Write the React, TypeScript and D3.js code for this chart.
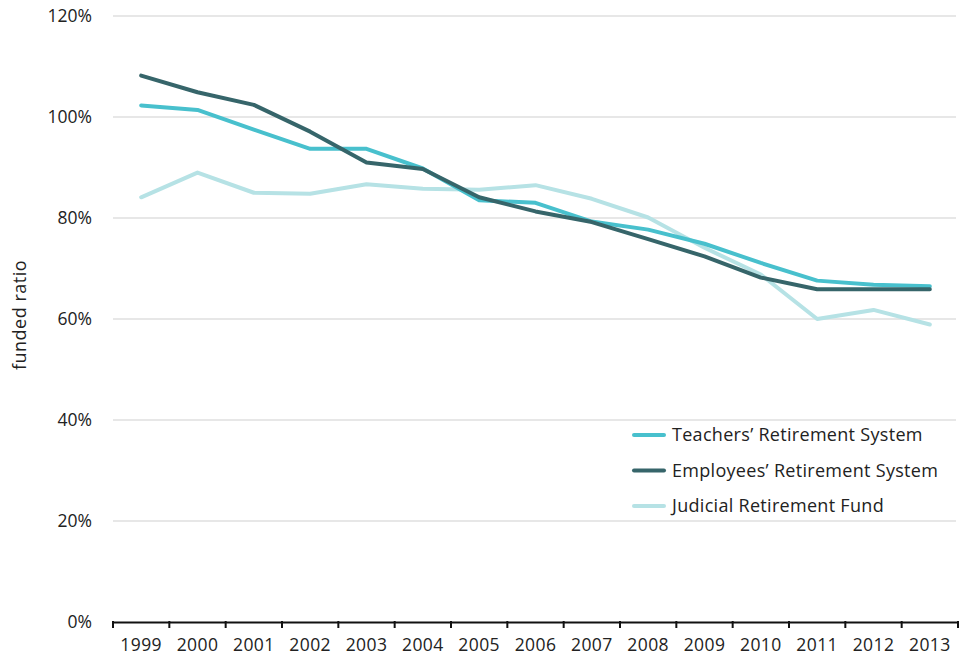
import React, { useEffect, useRef } from 'react';
import * as d3 from 'd3';

const years = ['1999', '2000', '2001', '2002', '2003', '2004', '2005', '2006', '2007', '2008', '2009', '2010', '2011', '2012', '2013'];
const teachers = [102.3, 101.4, 97.5, 93.7, 93.7, 89.8, 83.5, 83.0, 79.3, 77.7, 74.9, 71.1, 67.6, 66.8, 66.5];
const employees = [108.2, 104.9, 102.4, 97.1, 91.0, 89.7, 84.1, 81.3, 79.2, 75.8, 72.4, 68.2, 65.9, 65.9, 65.9];
const judicial = [84.1, 89.0, 85.0, 84.8, 86.7, 85.8, 85.6, 86.5, 83.8, 80.1, 74.1, 68.8, 60.0, 61.8, 58.9];
const yTicks = [0, 20, 40, 60, 80, 100, 120];

const seriesNames = ['Teachers’ Retirement System', 'Employees’ Retirement System', 'Judicial Retirement Fund'];
const seriesColors = ['#48c0cd', '#36656a', '#b6e2e5'];

const FONT = "'Open Sans', sans-serif";

const App = () => {
  const ref = useRef<SVGSVGElement | null>(null);

  useEffect(() => {
    if (!ref.current) return;
    const svg = d3.select(ref.current);
    svg.selectAll('*').remove();

    const x = d3.scaleBand().domain(years).range([113, 958]);
    const y = d3.scaleLinear().domain([0, 120]).range([622, 16]);

    // grid lines
    svg.append('g')
      .selectAll('line')
      .data(yTicks.filter(d => d > 0))
      .join('line')
      .attr('x1', 113)
      .attr('x2', 956)
      .attr('y1', d => y(d))
      .attr('y2', d => y(d))
      .attr('stroke', '#cfcfcf')
      .attr('stroke-width', 1.2);

    // y labels
    svg.append('g')
      .selectAll('text')
      .data(yTicks)
      .join('text')
      .attr('x', 92)
      .attr('y', d => y(d))
      .attr('dy', '0.35em')
      .attr('text-anchor', 'end')
      .style('font-family', FONT)
      .style('font-size', '17.5px')
      .attr('fill', '#222')
      .text(d => d + '%');

    svg.append('text')
      .attr('transform', 'translate(26, 315) rotate(-90)')
      .attr('text-anchor', 'middle')
      .style('font-family', FONT)
      .style('font-size', '18px')
      .style('letter-spacing', '0.5px')
      .attr('fill', '#222')
      .text('funded ratio');

    // x axis
    const xAxis = d3.axisBottom(x).tickSize(0).tickPadding(17);
    const gx = svg.append('g').attr('transform', 'translate(0, 622)').call(xAxis);
    gx.select('.domain').attr('stroke', '#111').attr('stroke-width', 2);
    gx.selectAll('text')
      .style('font-family', FONT)
      .style('font-size', '17.5px')
      .style('letter-spacing', '0.4px')
      .attr('fill', '#222');
    svg.append('g')
      .selectAll('line')
      .data(years.map(d => x(d) as number).concat([958]))
      .join('line')
      .attr('x1', d => d)
      .attr('x2', d => d)
      .attr('y1', 621)
      .attr('y2', 628)
      .attr('stroke', '#111')
      .attr('stroke-width', 2);

    const line = d3.line<number>()
      .x((_, i) => (x(years[i]) as number) + x.bandwidth() / 2)
      .y(d => y(d));

    const allSeries = [teachers, employees, judicial];
    [2, 0, 1].forEach(k => {
      svg.append('path')
        .datum(allSeries[k])
        .attr('d', line)
        .attr('fill', 'none')
        .attr('stroke', seriesColors[k])
        .attr('stroke-width', 4)
        .attr('stroke-linejoin', 'round')
        .attr('stroke-linecap', 'round');
    });

    // legend
    const lg = svg.append('g');
    seriesNames.forEach((name, i) => {
      const ly = 435 + i * 35.5;
      lg.append('line')
        .attr('x1', 634).attr('x2', 664)
        .attr('y1', ly).attr('y2', ly)
        .attr('stroke', seriesColors[i])
        .attr('stroke-width', 4)
        .attr('stroke-linecap', 'round');
      lg.append('text')
        .attr('x', 672)
        .attr('y', ly)
        .attr('dy', '0.35em')
        .style('font-family', FONT)
        .style('font-size', '18px')
        .style('letter-spacing', '0.3px')
        .attr('fill', '#222')
        .text(name);
    });
  }, []);

  return (
    <svg ref={ref} width={959} height={662} style={{ position: 'absolute', left: 0, top: 0 }} />
  );
};

export default App;
